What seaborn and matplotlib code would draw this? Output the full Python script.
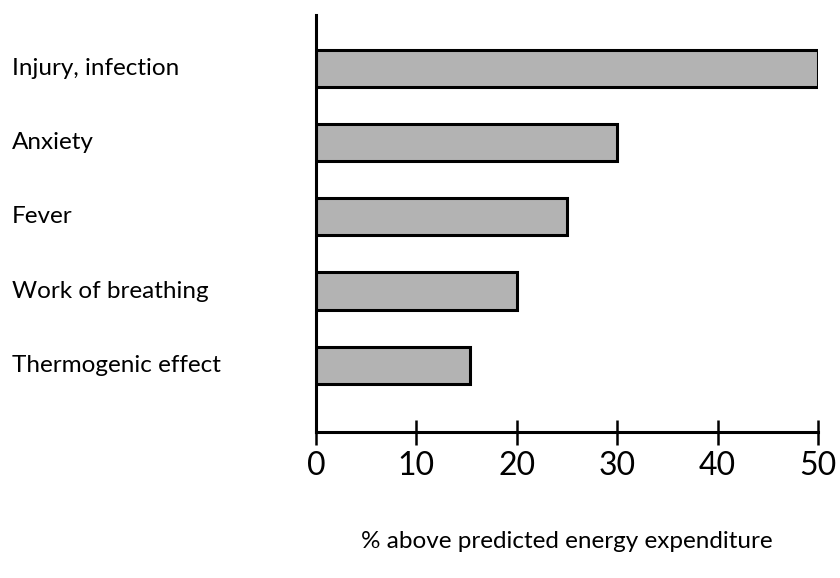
import pandas as pd
import matplotlib.pyplot as plt
import seaborn as sns

causes = ["Injury, infection", "Anxiety", "Fever", "Work of breathing", "Thermogenic effect"]
pct_above = [50, 30, 25, 20, 15.3]
x_ticks = [0, 10, 20, 30, 40, 50]

df = pd.DataFrame({"cause": causes, "pct": pct_above})

sns.set_style("white")
plt.rcParams["font.family"] = ["Lato", "DejaVu Sans"]
plt.rcParams["text.color"] = "black"
plt.rcParams["xtick.color"] = "black"
plt.rcParams["ytick.color"] = "black"

fig = plt.figure(figsize=(8.4, 5.78), dpi=100)
ax = fig.add_axes([0.376, 0.2526, 0.598, 0.7214])

sns.barplot(data=df, x="pct", y="cause", orient="h", color="#b3b3b3",
            saturation=1, width=0.5, edgecolor="black", linewidth=2.2, ax=ax)

ax.set_xlim(0, 50)
ax.set_ylim(4.9, -0.72)
ax.set_xticks(x_ticks)
ax.set_xticklabels([str(t) for t in x_ticks], fontsize=23)
ax.tick_params(axis="x", bottom=True, direction="inout", length=18, width=1.8,
               color="black", labelcolor="black", pad=5)

# category labels pushed out to the left edge of the figure
ax.set_yticks(range(len(causes)))
ax.set_yticklabels(causes, fontsize=17.5, ha="left", color="black")
ax.tick_params(axis="y", length=0, pad=219)
for lbl in ax.get_yticklabels():
    lbl.set_va("center")

for side in ["top", "right"]:
    ax.spines[side].set_visible(False)
for side in ["left", "bottom"]:
    ax.spines[side].set_linewidth(2.2)
    ax.spines[side].set_color("black")

ax.set_ylabel("")
ax.set_xlabel("% above predicted energy expenditure", fontsize=17.5, labelpad=36,
              color="black")

fig.savefig("out.png", dpi=100)
